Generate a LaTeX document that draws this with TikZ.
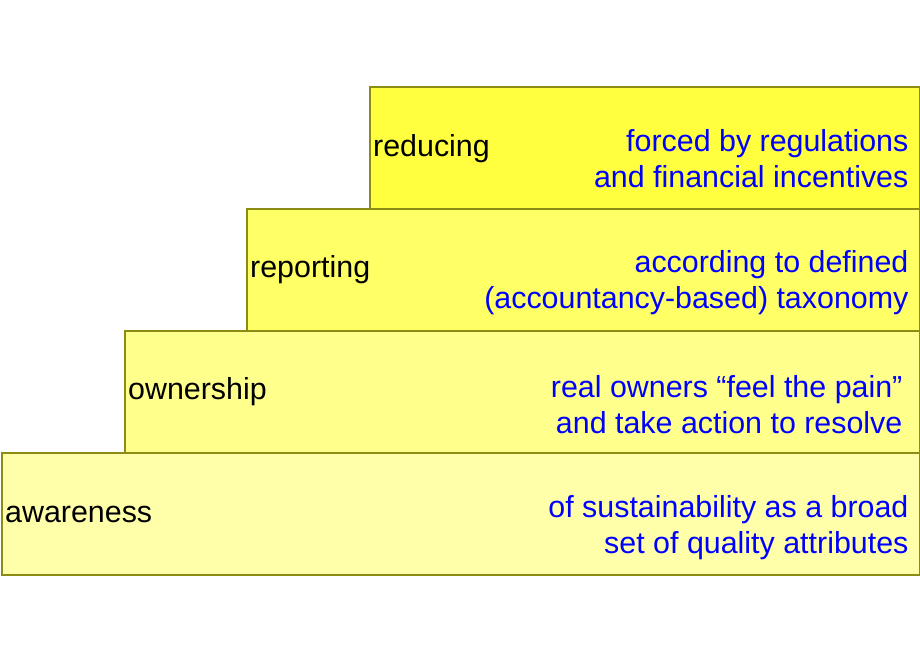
\documentclass[tikz,border=0pt]{standalone}
\usepackage{fontspec}
\setmainfont{Liberation Sans}
\usetikzlibrary{positioning}

\definecolor{stepedge}{RGB}{140,140,20}
\definecolor{fillreducing}{RGB}{255,255,64}
\definecolor{fillreporting}{RGB}{255,255,102}
\definecolor{fillownership}{RGB}{255,255,140}
\definecolor{fillawareness}{RGB}{255,255,170}

\tikzset{
  stepbox/.style={draw=stepedge, line width=1.6pt, rectangle, anchor=north west,
    minimum height=122pt, inner sep=0pt},
  steplabel/.style={anchor=west, inner sep=4pt, font=\fontsize{30.4}{36}\selectfont},
  stepnote/.style={anchor=east, align=right, inner sep=0pt, text=blue,
    font=\fontsize{30.4}{36.5}\selectfont}
}

\begin{document}
\begin{tikzpicture}[x=1pt, y=-1pt]
\useasboundingbox (0,0) rectangle (920,660);
\node[stepbox, fill=fillawareness, minimum width=918pt] (awareness) at (1,452) {}; % bas
\node[stepbox, fill=fillownership, minimum width=795pt] (ownership) at (124,330) {};
\node[stepbox, fill=fillreporting, minimum width=673pt] (reporting) at (246,208) {};
\node[stepbox, fill=fillreducing, minimum width=550pt] (reducing) at (369,86) {}; % haut
\node[steplabel] (lawareness) at ([yshift=-1pt]awareness.west) {awareness};
\node[steplabel] (lownership) at (ownership.west) {ownership};
\node[steplabel] (lreporting) at (reporting.west) {reporting};
\node[steplabel] (lreducing) at ([yshift=-1pt]reducing.west) {reducing};
\node[stepnote] (nawareness) at ([xshift=-12pt, yshift=-14pt]awareness.east)
  {of sustainability as a broad\\set of quality attributes};
\node[stepnote] (nownership) at ([xshift=-18pt, yshift=-13pt]ownership.east)
  {real owners “feel the pain”\\and take action to resolve};
\node[stepnote] (nreporting) at ([xshift=-12pt, yshift=-13pt]reporting.east)
  {according to defined\\(accountancy-based) taxonomy};
\node[stepnote] (nreducing) at ([xshift=-12pt, yshift=-11pt]reducing.east)
  {forced by regulations\\and financial incentives};
\end{tikzpicture}
\end{document}
